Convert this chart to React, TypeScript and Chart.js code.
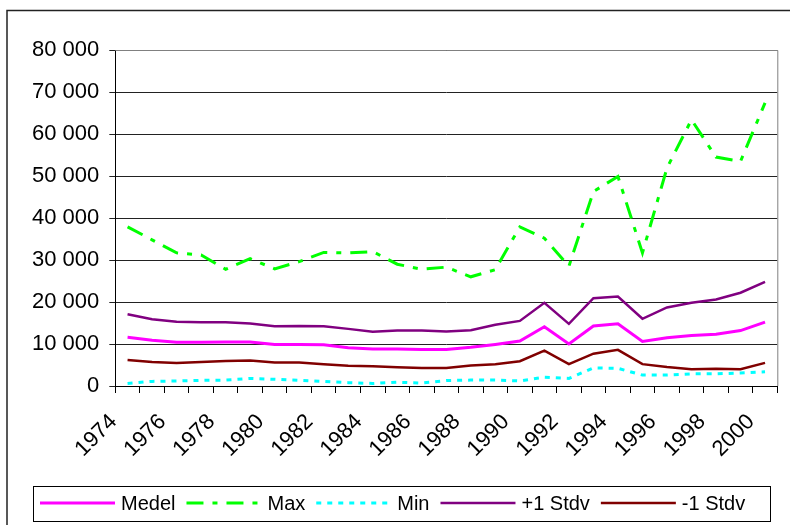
import { useEffect, useRef } from "react";
import { Chart, registerables } from "chart.js";

Chart.register(...registerables);

const years = [
  "1974", "1975", "1976", "1977", "1978", "1979", "1980", "1981", "1982",
  "1983", "1984", "1985", "1986", "1987", "1988", "1989", "1990", "1991",
  "1992", "1993", "1994", "1995", "1996", "1997", "1998", "1999", "2000",
];

const medel = [
  11600, 10900, 10400, 10400, 10500, 10500, 9900, 9900, 9800, 9100, 8800, 8800,
  8700, 8700, 9200, 9900, 10700, 14100, 10000, 14300, 14800, 10600, 11500,
  12000, 12300, 13200, 15200,
];

const maxValues = [
  37900, 34800, 31700, 31200, 27800, 30300, 27900, 29600, 31800, 31700, 32000,
  29000, 27800, 28300, 26000, 27700, 37900, 35200, 28500, 46300, 49900, 31700,
  51900, 63400, 54500, 53500, 67400,
];

const minValues = [
  600, 1100, 1200, 1350, 1400, 1800, 1600, 1350, 1100, 800, 600, 900, 700, 1300,
  1400, 1400, 1200, 2100, 1800, 4300, 4200, 2600, 2600, 2900, 2900, 3100, 3400,
];

const plusStdv = [
  17100, 15900, 15300, 15200, 15200, 14900, 14200, 14300, 14200, 13600, 12900,
  13200, 13200, 13000, 13300, 14600, 15500, 19800, 14800, 20900, 21300, 16000,
  18700, 19800, 20600, 22200, 24800,
];

const minusStdv = [
  6200, 5700, 5500, 5700, 5950, 6100, 5600, 5600, 5200, 4850, 4700, 4450, 4300,
  4300, 4900, 5200, 5900, 8400, 5200, 7700, 8600, 5200, 4500, 4000, 4100, 4000,
  5500,
];

const yTicks = [0, 10000, 20000, 30000, 40000, 50000, 60000, 70000, 80000];

const seriesLabels = ["Medel", "Max", "Min", "+1 Stdv", "-1 Stdv"];

const FONT = "'Liberation Sans', Arial, sans-serif";

const fmt = (v: number) =>
  String(Math.round(v)).replace(/\B(?=(\d{3})+(?!\d))/g, " ");

const framePlugin = {
  id: "frame",
  beforeDraw(chart: any) {
    const ctx = chart.ctx;
    ctx.save();
    ctx.fillStyle = "#fff";
    ctx.fillRect(0, 0, chart.width, chart.height);
    ctx.strokeStyle = "#222";
    ctx.lineWidth = 1.5;
    ctx.beginPath();
    ctx.moveTo(7, chart.height + 2);
    ctx.lineTo(7, 10.5);
    ctx.lineTo(chart.width + 2, 10.5);
    ctx.stroke();
    ctx.restore();
  },
  afterDatasetsDraw(chart: any) {
    const ctx = chart.ctx;
    const a = chart.chartArea;
    ctx.save();
    ctx.strokeStyle = "#808080";
    ctx.lineWidth = 1;
    ctx.beginPath();
    ctx.moveTo(a.left, a.top + 0.5);
    ctx.lineTo(a.right + 0.5, a.top + 0.5);
    ctx.lineTo(a.right + 0.5, a.bottom);
    ctx.stroke();
    ctx.restore();
  },
  afterDraw(chart: any) {
    const ctx = chart.ctx;
    ctx.save();
    ctx.strokeStyle = "#000";
    ctx.lineWidth = 1;
    ctx.strokeRect(33.5, 486.5, 737, 35);
    ctx.font = `20px ${FONT}`;
    ctx.textBaseline = "middle";
    ctx.textAlign = "left";
    let x = 40;
    const y = 503;
    chart.data.datasets.forEach((ds: any) => {
      ctx.strokeStyle = ds.borderColor;
      ctx.lineWidth = ds.borderWidth;
      ctx.setLineDash(ds.borderDash || []);
      ctx.lineCap = "butt";
      ctx.beginPath();
      ctx.moveTo(x, y);
      ctx.lineTo(x + 75, y);
      ctx.stroke();
      ctx.setLineDash([]);
      ctx.fillStyle = "#000";
      ctx.fillText(ds.label, x + 81, y + 1);
      x += 81 + ctx.measureText(ds.label).width + 11;
    });
    ctx.restore();
  },
};

export default function App() {
  const ref = useRef<HTMLCanvasElement | null>(null);

  useEffect(() => {
    if (!ref.current) return;
    const chart = new Chart(ref.current, {
      type: "line",
      data: {
        labels: years,
        datasets: [
          {
            label: seriesLabels[0],
            data: medel,
            borderColor: "#FF00FF",
            borderWidth: 3,
          },
          {
            label: seriesLabels[1],
            data: maxValues,
            borderColor: "#00FF00",
            borderWidth: 3,
            borderDash: [17, 9, 5, 9],
          },
          {
            label: seriesLabels[2],
            data: minValues,
            borderColor: "#00FFFF",
            borderWidth: 3,
            borderDash: [5, 6],
          },
          {
            label: seriesLabels[3],
            data: plusStdv,
            borderColor: "#800080",
            borderWidth: 2.5,
          },
          {
            label: seriesLabels[4],
            data: minusStdv,
            borderColor: "#800000",
            borderWidth: 2.5,
          },
        ],
      },
      options: {
        responsive: false,
        animation: false,
        devicePixelRatio: 1,
        layout: { padding: { top: 50, right: 12.7, left: 0, bottom: 0 } },
        plugins: {
          legend: { display: false },
          tooltip: { enabled: false },
        },
        elements: {
          point: { radius: 0, hoverRadius: 0 },
          line: { tension: 0, fill: false },
        },
        scales: {
          x: {
            type: "category",
            offset: true,
            grid: {
              offset: true,
              drawOnChartArea: false,
              drawTicks: true,
              tickLength: 7,
              color: "#000",
            },
            border: { color: "#000", width: 1 },
            ticks: {
              autoSkip: false,
              maxRotation: 45,
              minRotation: 45,
              padding: 16,
              labelOffset: -14,
              color: "#000",
              font: { family: FONT, size: 22 },
              callback: (_v: any, i: number) => (i % 2 === 0 ? years[i] : ""),
            },
            afterFit: (s: any) => {
              s.height = 139;
              s.paddingLeft = 0;
              s.paddingRight = 0;
            },
          },
          y: {
            min: 0,
            max: 80000,
            afterBuildTicks: (s: any) => {
              s.ticks = yTicks.map((v) => ({ value: v }));
            },
            ticks: {
              color: "#000",
              padding: 10,
              font: { family: FONT, size: 22 },
              callback: (v: any) => fmt(Number(v)),
            },
            grid: { color: "#222", tickLength: 6, lineWidth: 1 },
            border: { color: "#000", width: 1 },
            afterFit: (s: any) => {
              s.width = 115.3;
            },
          },
        },
      },
      plugins: [framePlugin],
    });
    return () => chart.destroy();
  }, []);

  return (
    <div style={{ position: "absolute", left: 0, top: 0, width: 790, height: 525 }}>
      <canvas ref={ref} width={790} height={525} style={{ display: "block" }} />
    </div>
  );
}
